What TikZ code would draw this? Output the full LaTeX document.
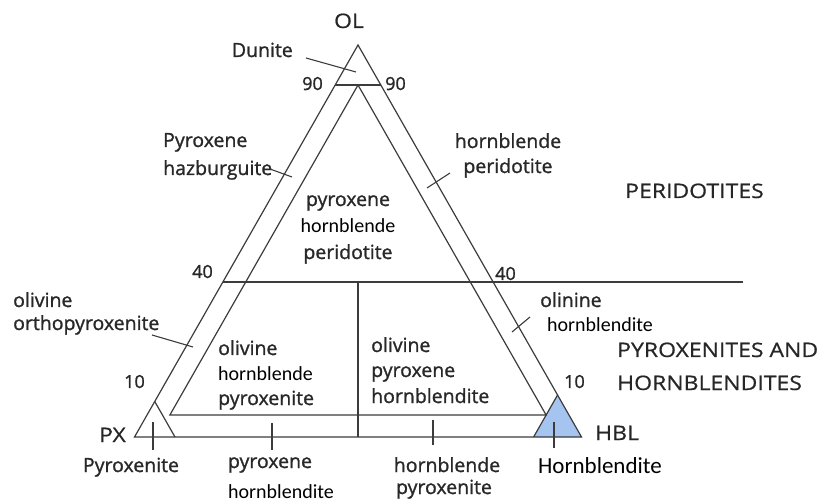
\documentclass[tikz,border=0pt]{standalone}
\usepackage{fontspec}
\setmainfont{Open Sans}[FakeBold=1.2]
\newfontfamily\litefont{Carlito}
\newfontfamily\capsfont{Open Sans}[FakeStretch=1.15,FakeBold=0.6]
\definecolor{linegray}{RGB}{60,60,60}
\definecolor{textgray}{RGB}{40,40,40}
\definecolor{hblblue}{RGB}{166,196,240}
\newcommand{\labsize}{\fontsize{19.5}{26}\selectfont}
\newcommand{\numsize}{\fontsize{18}{22}\selectfont}
\newcommand{\litesize}{\fontsize{20}{24}\selectfont}
\newcommand{\capsize}{\fontsize{20}{24}\selectfont}
\begin{document}
\begin{tikzpicture}[x=1pt,y=-1pt,
edge/.style={draw=linegray,line width=1.2pt},
tick/.style={draw=linegray,line width=1.1pt},
lab/.style={inner sep=0pt,text=textgray,font=\labsize},
num/.style={inner sep=0pt,text=textgray,font=\numsize},
lite/.style={inner sep=0pt,text=black,font=\litefont\litesize},
caps/.style={inner sep=0pt,text=black!85,font=\capsfont\capsize}]
\useasboundingbox (0,0) rectangle (827,502);
% corners of the diagram
\coordinate (ol) at (358,45);
\coordinate (px) at (134.5,437);
\coordinate (hbl) at (581.5,437);
\coordinate (apex90) at (358,85);
\coordinate (l90) at (335.2,85);
\coordinate (r90) at (380.8,85);
\coordinate (inl) at (169.9,415);
\coordinate (inr) at (546.1,415);
\coordinate (l40) at (222.9,282);
\coordinate (r40) at (743,282);
\coordinate (m40) at (358,282);
\coordinate (mbase) at (358,437);
\coordinate (pxr) at (175,437);
\coordinate (pxtop) at (154.75,401.5);
\coordinate (hbll) at (533.6,437);
\coordinate (hbltop) at (557.55,395);
% blue corner
\fill[hblblue] (hbll) -- (hbl) -- (hbltop) -- cycle;
% fields
\draw[edge] (px) -- (hbl) -- (ol) -- cycle;
\draw[edge] (l90) -- (r90);
\draw[edge] (inl) -- (apex90) -- (inr) -- cycle;
\draw[edge] (l40) -- (r40);
\draw[edge] (m40) -- (mbase);
\draw[edge] (pxr) -- (pxtop);
\draw[edge] (hbll) -- (hbltop);
% labels
\node[caps,anchor=base] (olname) at (349,28) {OL};
\node[caps,anchor=base east] (pxname) at (126,442) {PX};
\node[caps,anchor=base west] (hblname) at (595,440) {HBL};
\node[lab,anchor=base east] (dunite) at (293,57) {Dunite};
\node[num,anchor=base east] (n90l) at (323,90) {90};
\node[num,anchor=base west] (n90r) at (385,90) {90};
\node[num,anchor=base east] (n40l) at (213,278) {40};
\node[num,anchor=base west] (n40r) at (495,280) {40};
\node[num,anchor=base east] (n10l) at (145,388) {10};
\node[num,anchor=base west] (n10r) at (564,388) {10};
\node[lab,anchor=base west] (pyrhaz) at (163,147) {Pyroxene};
\node[lab,anchor=base west] (hazb) at (163,175) {hazburguite};
\node[lab,anchor=base] (hbper) at (508,148) {hornblende};
\node[lab,anchor=base] (hbperb) at (508,173) {peridotite};
\node[caps,anchor=base west] (peridotites) at (625,198) {PERIDOTITES};
\node[lab,anchor=base] (pxhbp) at (348,206) {pyroxene};
\node[lite,anchor=base] (pxhbpb) at (348,233) {hornblende};
\node[lab,anchor=base] (pxhbpc) at (348,259) {peridotite};
\node[lab,anchor=base west] (olopx) at (13,307) {olivine};
\node[lab,anchor=base west] (olopxb) at (13,330) {orthopyroxenite};
\node[lab,anchor=base west] (olhbpx) at (218,355) {olivine};
\node[lite,anchor=base west] (olhbpxb) at (218,381) {hornblende};
\node[lab,anchor=base west] (olhbpxc) at (218,405) {pyroxenite};
\node[lab,anchor=base west] (olpxhb) at (371,352) {olivine};
\node[lab,anchor=base west] (olpxhbb) at (371,377) {pyroxene};
\node[lab,anchor=base west] (olpxhbc) at (371,403) {hornblendite};
\node[lab,anchor=base west] (olhb) at (540,307) {olinine};
\node[lite,anchor=base west] (olhbb) at (547,332) {hornblendite};
\node[caps,anchor=base west] (pyxhb) at (617,357) {PYROXENITES AND};
\node[caps,anchor=base west] (pyxhbb) at (617,390) {HORNBLENDITES};
\node[lab,anchor=base] (pyroxenite) at (131,472) {Pyroxenite};
\node[lab,anchor=base] (pxhb) at (270,468) {pyroxene};
\node[lite,anchor=base] (pxhbb) at (281,498) {hornblendite};
\node[lab,anchor=base] (hbpx) at (447,472) {hornblende};
\node[lab,anchor=base] (hbpxb) at (444,494) {pyroxenite};
\node[lite,anchor=base,font=\litefont\fontsize{23}{26}\selectfont] (hornblendite) at (600,473) {Hornblendite};
% ticks to the labels
\coordinate (dunA) at (306,58);   \coordinate (dunB) at (356,72);
\coordinate (hazA) at (270,169);  \coordinate (hazB) at (292,177);
\coordinate (hpA) at (427,188);   \coordinate (hpB) at (450,173);
\coordinate (opxA) at (152,335);  \coordinate (opxB) at (193,347);
\coordinate (ohA) at (512,332);   \coordinate (ohB) at (530,317);
\draw[tick] (dunA) -- (dunB);
\draw[tick] (hazA) -- (hazB);
\draw[tick] (hpA) -- (hpB);
\draw[tick] (opxA) -- (opxB);
\draw[tick] (ohA) -- (ohB);
\foreach \x/\a/\b in {153/422/450,272/423/450,433/420/445,554/422/448}
  \draw[tick] (\x,\a) -- (\x,\b);
\end{tikzpicture}
\end{document}
